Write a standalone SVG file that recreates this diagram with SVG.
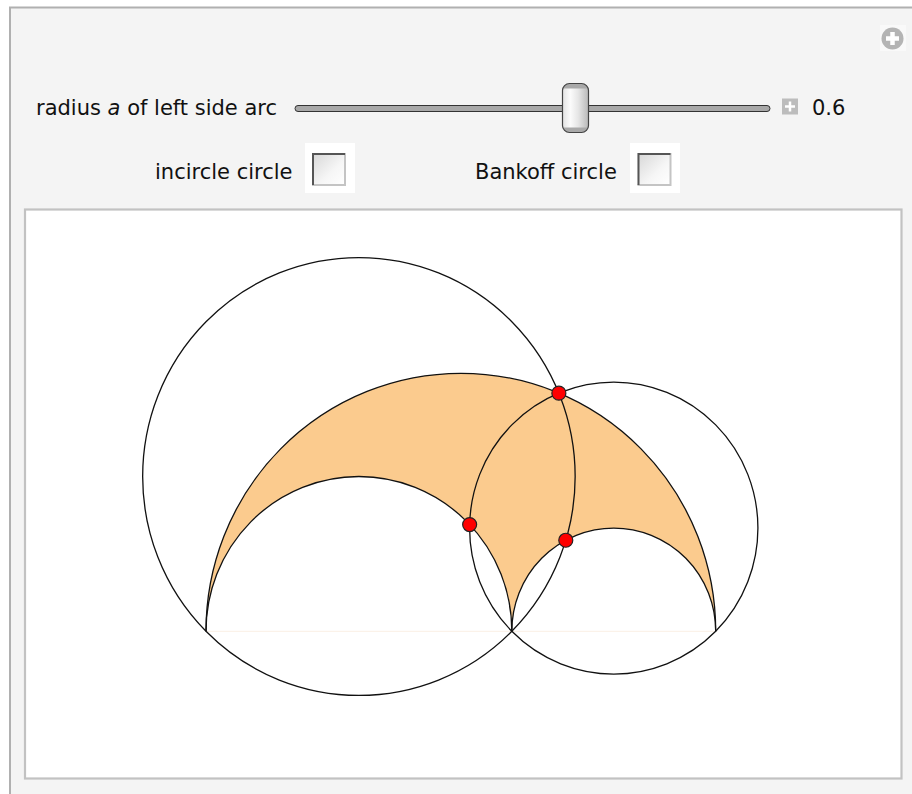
<svg xmlns="http://www.w3.org/2000/svg" width="912" height="794" viewBox="0 0 912 794">
  <style>
    .lbl { font-family: "DejaVu Sans", "Liberation Sans", sans-serif; font-size: 21px; fill: #111; }
    .curve { fill: none; stroke: #111; stroke-width: 1.3; }
    .pt { fill: #ff0000; stroke: #222; stroke-width: 1.2; }
    .cbbg { fill: #ffffff; }
    .cb { fill: url(#cbGrad); }
    .cbDark { stroke: #555; stroke-width: 2; fill: none; }
    .cbLight { stroke: #c4c4c4; stroke-width: 2; fill: none; }
  </style>
  <defs>
    <linearGradient id="cbGrad" x1="0" y1="0" x2="1" y2="1">
      <stop offset="0" stop-color="#d6d6d6"/>
      <stop offset="0.6" stop-color="#f6f6f6"/>
      <stop offset="1" stop-color="#ffffff"/>
    </linearGradient>
    <linearGradient id="thumbGrad" x1="0" y1="0" x2="1" y2="0">
      <stop offset="0" stop-color="#e2e2e2"/>
      <stop offset="0.3" stop-color="#fbfbfb"/>
      <stop offset="0.6" stop-color="#e6e6e6"/>
      <stop offset="1" stop-color="#b8b8b8"/>
    </linearGradient>
    <clipPath id="thumbClip">
      <rect x="562.5" y="83.5" width="26" height="49" rx="7"/>
    </clipPath>
  </defs>

  <!-- panel -->
  <rect x="0" y="0" width="912" height="794" fill="#ffffff"/>
  <rect id="panel" x="10" y="7.5" width="920" height="800" fill="#f4f4f4" stroke="#b0b0b0" stroke-width="2"/>

  <!-- top-right icon -->
  <g id="icon">
    <rect x="880" y="25" width="26" height="26" fill="#f9f9f9"/>
    <circle cx="892.5" cy="38.5" r="11" fill="#b4b4b4"/>
    <line x1="886" y1="38.5" x2="899" y2="38.5" stroke="#ffffff" stroke-width="4.5"/>
    <line x1="892.5" y1="32" x2="892.5" y2="45" stroke="#ffffff" stroke-width="4.5"/>
  </g>

  <!-- slider -->
  <g id="slider">
    <text class="lbl" x="36" y="114.5">radius <tspan font-style="italic">a</tspan> of left side arc</text>
    <rect x="295" y="105.5" width="475" height="6" rx="3" fill="#a8a8a8" stroke="#333" stroke-width="1"/>
    <g clip-path="url(#thumbClip)">
      <rect x="562.5" y="83.5" width="26" height="49" fill="url(#thumbGrad)"/>
      <rect x="562.5" y="83.5" width="26" height="5" fill="#a9a9a9"/>
      <rect x="562.5" y="127.5" width="26" height="5" fill="#a9a9a9"/>
    </g>
    <rect x="562.5" y="83.5" width="26" height="49" rx="7" fill="none" stroke="#444" stroke-width="1.2"/>
    <rect x="782" y="98.5" width="16" height="16" fill="#bcbcbc"/>
    <line x1="785" y1="106.5" x2="795" y2="106.5" stroke="#ffffff" stroke-width="2.5"/>
    <line x1="790" y1="101.5" x2="790" y2="111.5" stroke="#ffffff" stroke-width="2.5"/>
    <text class="lbl" x="812" y="114.5">0.6</text>
  </g>

  <!-- checkboxes -->
  <g id="incircle-checkbox">
    <text class="lbl" x="155" y="179">incircle circle</text>
    <rect class="cbbg" x="305" y="143" width="50" height="50"/>
    <rect class="cb" x="312" y="153" width="33" height="32"/>
    <polyline class="cbLight" points="345,153 345,185 312,185"/>
    <polyline class="cbDark" points="313,185 313,154 345,154"/>
  </g>
  <g id="bankoff-checkbox">
    <text class="lbl" x="475" y="179">Bankoff circle</text>
    <rect class="cbbg" x="630" y="143" width="50" height="50"/>
    <rect class="cb" x="637.5" y="153" width="33" height="32"/>
    <polyline class="cbLight" points="670.5,153 670.5,185 637.5,185"/>
    <polyline class="cbDark" points="638.5,185 638.5,154 670.5,154"/>
  </g>

  <!-- plot area -->
  <rect id="plot" x="25" y="209.5" width="876.5" height="569" fill="#ffffff" stroke="#c2c2c2" stroke-width="2.2"/>

  <g id="figure">
    <path id="arbelos" d="M206,631.3 A254.85,258 0 0 1 715.7,631.3 A101.94,103.2 0 0 0 511.82,631.3 A152.91,154.8 0 0 0 206,631.3 Z" fill="#fbcb8e" stroke="none"/>
    <line x1="206" y1="631.3" x2="715.7" y2="631.3" stroke="#fbefe4" stroke-width="1"/>
    <path class="curve" d="M206,631.3 A254.85,258 0 0 1 715.7,631.3"/>
    <path class="curve" d="M511.82,631.3 A101.94,103.2 0 0 1 715.7,631.3"/>
    <path class="curve" d="M206,631.3 A152.91,154.8 0 0 1 511.82,631.3"/>
    <ellipse id="left-circle" class="curve" cx="358.91" cy="476.5" rx="216.25" ry="218.92"/>
    <ellipse id="right-circle" class="curve" cx="613.76" cy="528.1" rx="144.16" ry="145.95"/>
    <g id="points">
      <circle class="pt" cx="558.87" cy="393.15" r="7"/>
      <circle class="pt" cx="469.64" cy="524.54" r="7"/>
      <circle class="pt" cx="565.79" cy="540.24" r="7"/>
    </g>
  </g>
</svg>
